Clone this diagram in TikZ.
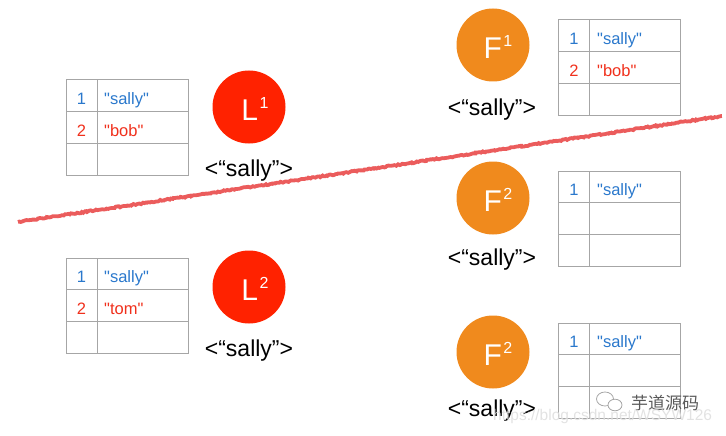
\documentclass[tikz,border=0pt]{standalone}
\usepackage{fontspec}
\setmainfont{Liberation Sans}
\newfontfamily\rawsans{Liberation Sans}
\newfontfamily\cjkwm{Noto Sans CJK SC}
\usetikzlibrary{decorations.pathmorphing}
\definecolor{lred}{HTML}{FF2200}
\definecolor{forange}{HTML}{F08A1D}
\definecolor{tblue}{HTML}{2A78CC}
\definecolor{tred}{HTML}{F0301C}
\definecolor{gridgray}{HTML}{A6A6A6}
\definecolor{cutred}{HTML}{E84040}
\newcommand\supnum[1]{\hspace{1.5pt}\raisebox{12pt}{\fontsize{16}{16}\selectfont #1}}
\begin{document}
\begin{tikzpicture}[x=1pt,y=-1pt,
  gridline/.style={draw=gridgray,line width=1pt},
  leader/.style={circle,fill=lred,minimum size=73pt,inner sep=0pt},
  follower/.style={leader,fill=forange},
  roletext/.style={text=white,font=\fontsize{30}{30}\selectfont,inner sep=0pt},
  keylabel/.style={anchor=base,inner sep=0pt,font=\fontsize{23}{23}\selectfont},
  idx/.style={anchor=base,inner sep=0pt,font=\rawsans\fontsize{16.5}{16.5}\selectfont},
  val/.style={anchor=base west,inner sep=0pt,font=\rawsans\fontsize{16.5}{16.5}\selectfont},
  cutline/.style={draw=cutred,line width=3.8pt,opacity=0.85,
    decorate,decoration={random steps,segment length=1.5pt,amplitude=0.7pt}},
]
\useasboundingbox (0,0) rectangle (726,436);

% tables
\foreach \tx/\ty in {66/80, 66/258, 558/20, 558/171, 558/323} {
  \draw[gridline] (\tx,\ty) rectangle ++(122,95.4);
  \draw[gridline] (\tx,\ty+31.8) -- ++(122,0)
                  (\tx,\ty+63.6) -- ++(122,0)
                  (\tx+31,\ty) -- ++(0,95.4);
}

% table entries
\node[idx,text=tblue] (l1n1) at (81.5,104.5) {1};
\node[val,text=tblue] (l1v1) at (104,104.5) {"sally"};
\node[idx,text=tred]  (l1n2) at (81.5,136.3) {2};
\node[val,text=tred]  (l1v2) at (104,136.3) {"bob"};

\node[idx,text=tblue] (l2n1) at (81.5,282.5) {1};
\node[val,text=tblue] (l2v1) at (104,282.5) {"sally"};
\node[idx,text=tred]  (l2n2) at (81.5,314.3) {2};
\node[val,text=tred]  (l2v2) at (104,314.3) {"tom"};

\node[idx,text=tblue] (f1n1) at (574,44.5) {1};
\node[val,text=tblue] (f1v1) at (597,44.5) {"sally"};
\node[idx,text=tred]  (f1n2) at (574,76.3) {2};
\node[val,text=tred]  (f1v2) at (597,76.3) {"bob"};

\node[idx,text=tblue] (f2n1) at (574,195.5) {1};
\node[val,text=tblue] (f2v1) at (597,195.5) {"sally"};

\node[idx,text=tblue] (f3n1) at (574,347.5) {1};
\node[val,text=tblue] (f3v1) at (597,347.5) {"sally"};

% nodes (circles)
\node[leader] (l1) at (249,107) {};
\node[roletext] (l1t) at (255,109) {L\supnum{1}};
\node[keylabel] (l1k) at (249,176) {<“sally”>};

\node[leader] (l2) at (249,287) {};
\node[roletext] (l2t) at (255,289) {L\supnum{2}};
\node[keylabel] (l2k) at (249,356) {<“sally”>};

\node[follower] (f1) at (493,45) {};
\node[roletext] (f1t) at (498,47) {F\supnum{1}};
\node[keylabel] (f1k) at (492,115) {<“sally”>};

\node[follower] (f2) at (493,198) {};
\node[roletext] (f2t) at (498,200) {F\supnum{2}};
\node[keylabel] (f2k) at (492,265) {<“sally”>};

\node[follower] (f3) at (493,352) {};
\node[roletext] (f3t) at (498,354) {F\supnum{2}};
\node[keylabel] (f3k) at (492,416) {<“sally”>};

% partition line
\coordinate (cutA) at (18,222);
\coordinate (cutB) at (722,116);
\draw[cutline] (cutA) -- (cutB);

% watermark
\draw[gray!70,line width=0.8pt] (605,399) ellipse [x radius=8.5pt,y radius=7pt];
\draw[gray!70,line width=0.8pt,fill=white] (615,405) ellipse [x radius=7pt,y radius=5.8pt];
\node[anchor=west,inner sep=0pt,text=black!65,font=\cjkwm\fontsize{17}{17}\selectfont] (wm1) at (631,403) {芋道源码};
\node[anchor=base west,inner sep=0pt,text=gray!25,opacity=0.9,font=\rawsans\fontsize{15.5}{15.5}\selectfont] (wm2) at (493,420) {https://blog.csdn.net/WSYW126};
\end{tikzpicture}
\end{document}
